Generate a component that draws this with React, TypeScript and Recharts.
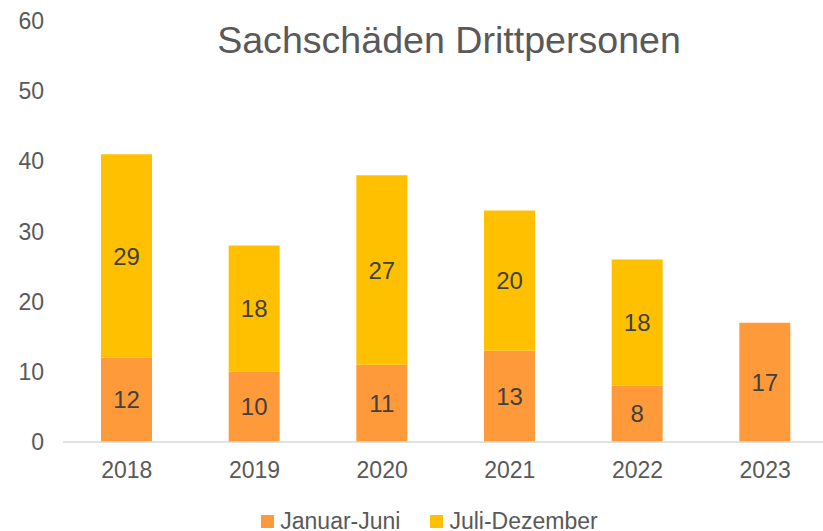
import { Bar, BarChart, LabelList, Legend, XAxis, YAxis } from "recharts";

const years = ["2018", "2019", "2020", "2021", "2022", "2023"];
const januarJuni = [12, 10, 11, 13, 8, 17];
const juliDezember: (number | null)[] = [29, 18, 27, 20, 18, null];
const yTicks = [0, 10, 20, 30, 40, 50, 60];

const data = years.map((year, i) => ({
  year,
  jj: januarJuni[i],
  jd: juliDezember[i],
}));

const FONT = '"Liberation Sans", Arial, sans-serif';
const TEXT = "#595959";
const ORANGE = "#FF9A3A";
const YELLOW = "#FFC000";

function ChartLegend({ payload }: { payload?: { value: string; color: string }[] }) {
  return (
    <div
      style={{
        display: "flex",
        justifyContent: "center",
        gap: 30,
        paddingLeft: 36,
        fontFamily: FONT,
        fontSize: 23,
        color: TEXT,
      }}
    >
      {(payload ?? []).map((p) => (
        <div key={p.value} style={{ display: "flex", alignItems: "center" }}>
          <span style={{ width: 13, height: 13, background: p.color, marginRight: 6 }} />
          <span>{p.value}</span>
        </div>
      ))}
    </div>
  );
}

export default function App() {
  return (
    <div
      style={{
        position: "absolute",
        left: 0,
        top: 0,
        width: 823,
        height: 531,
        overflow: "hidden",
        background: "#fff",
      }}
    >
      <div
        style={{
          position: "absolute",
          left: 449,
          top: 22,
          transform: "translateX(-50%)",
          whiteSpace: "nowrap",
          fontFamily: FONT,
          fontSize: 37.6,
          lineHeight: 1,
          color: TEXT,
        }}
      >
        Sachschäden Drittpersonen
      </div>
      <BarChart
        width={823}
        height={531}
        data={data}
        margin={{ top: 21, right: -6, left: 0, bottom: 0 }}
        barSize={51}
      >
        <XAxis
          dataKey="year"
          height={89}
          axisLine={{ stroke: "#d9d9d9", strokeWidth: 1.5 }}
          tickLine={false}
          tickSize={6}
          tickMargin={14}
          tick={{ fontSize: 23, fill: TEXT, fontFamily: FONT }}
        />
        <YAxis
          width={63}
          domain={[0, 60]}
          ticks={yTicks}
          axisLine={false}
          tickLine={false}
          tickSize={6}
          tickMargin={13}
          tick={{ fontSize: 23, fill: TEXT, fontFamily: FONT }}
        />
        <Legend
          layout="horizontal"
          verticalAlign="middle"
          align="center"
          wrapperStyle={{ top: 508, left: 0, width: 823 }}
          content={<ChartLegend />}
        />
        <Bar dataKey="jj" name="Januar-Juni" stackId="a" fill={ORANGE} isAnimationActive={false}>
          <LabelList
            dataKey="jj"
            position="center"
            style={{ fontSize: 24, fill: "#404040", fontFamily: FONT }}
          />
        </Bar>
        <Bar dataKey="jd" name="Juli-Dezember" stackId="a" fill={YELLOW} isAnimationActive={false}>
          <LabelList
            dataKey="jd"
            position="center"
            style={{ fontSize: 24, fill: "#404040", fontFamily: FONT }}
          />
        </Bar>
      </BarChart>
    </div>
  );
}
